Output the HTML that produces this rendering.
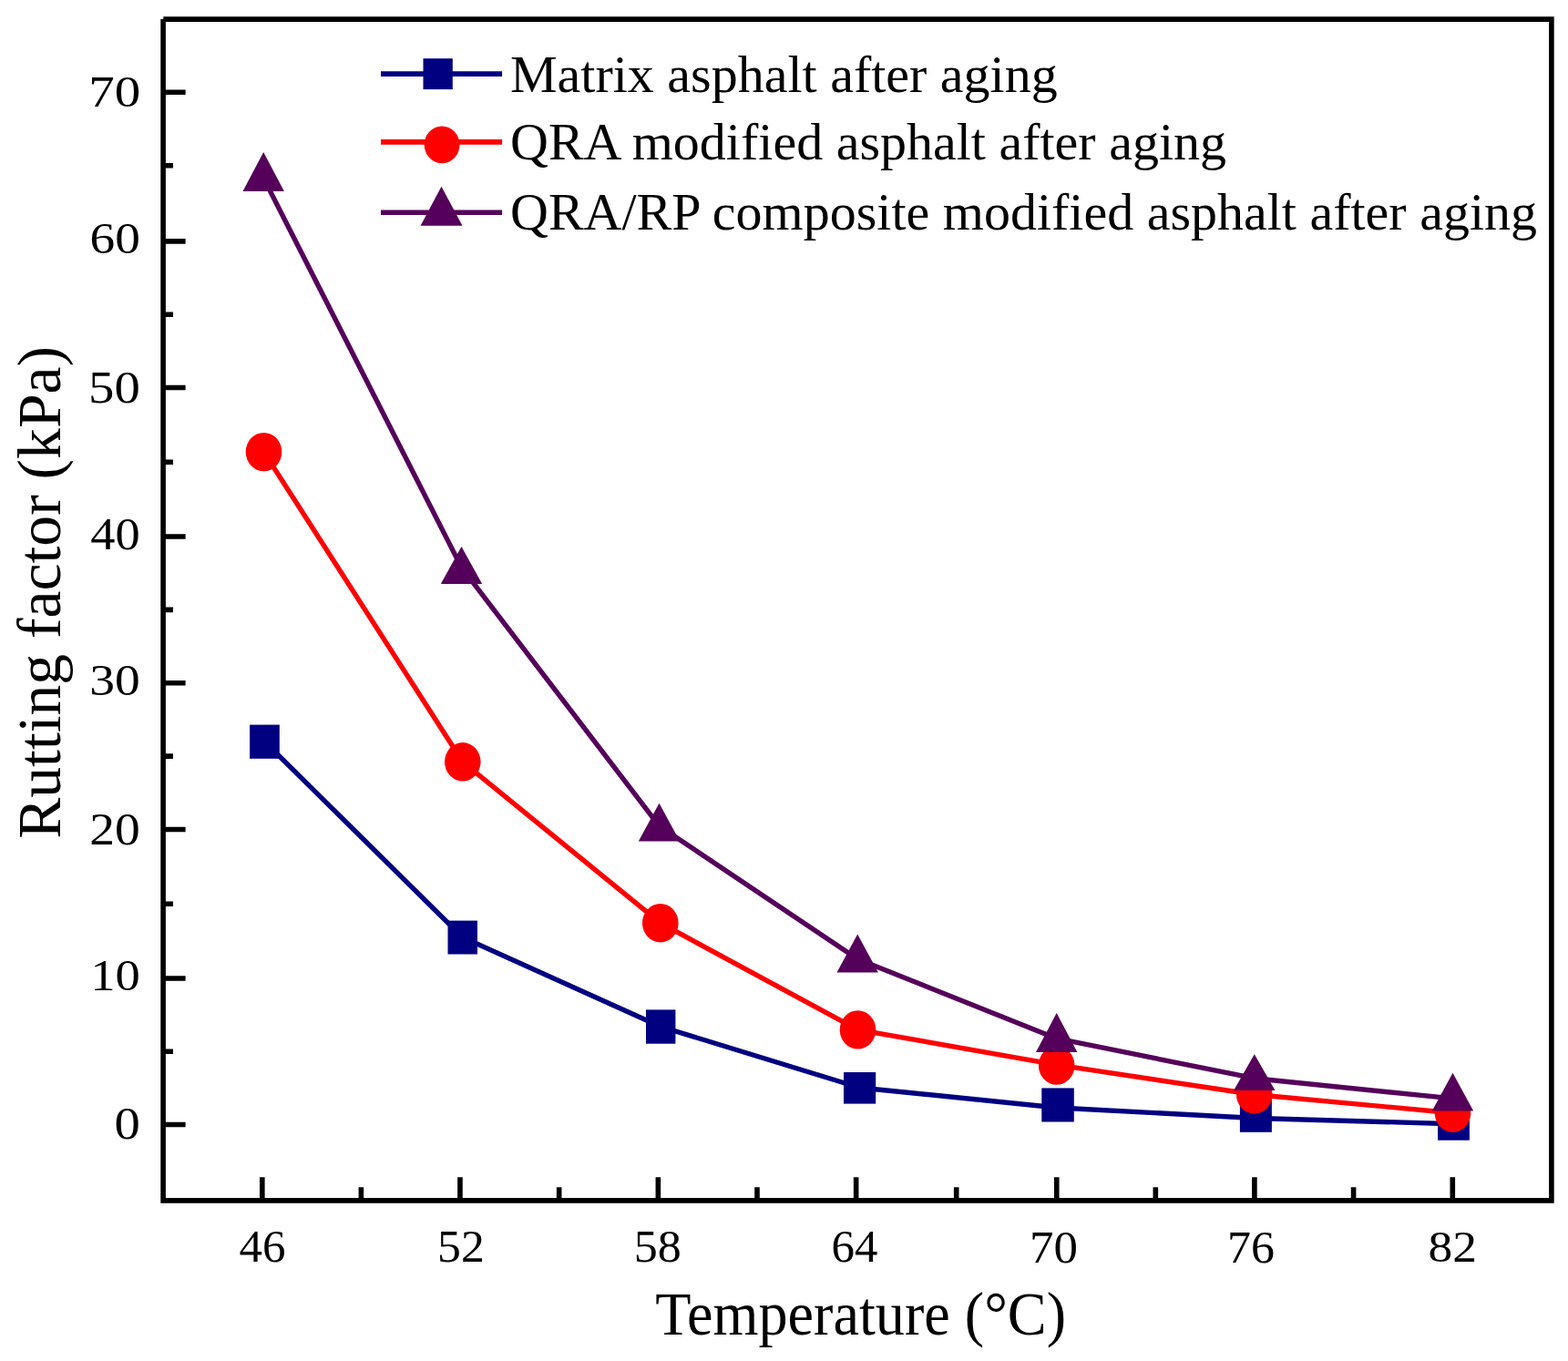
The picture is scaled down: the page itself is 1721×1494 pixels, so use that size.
<!DOCTYPE html><html><head><meta charset="utf-8"><title>Rutting factor vs Temperature</title>
<style>html,body{margin:0;padding:0;background:#fff;}svg{display:block;}text{font-family:"Liberation Serif","Times New Roman",serif;fill:#000;}</style></head><body>
<svg width="1721" height="1494" viewBox="0 0 1721 1494">
<rect x="0" y="0" width="1721" height="1494" fill="#fff"/>
<path d="M179.3 18.2H1705.7V1320.7H176.3V21.1H179.3Z M181.9 23.9V1314.9H1700.1V23.9Z" fill="#000" fill-rule="evenodd"/>
<path d="M181 1234.50H203.6 M181 1074.00H203.6 M181 910.50H203.6 M181 749.80H203.6 M181 589.05H203.6 M181 425.50H203.6 M181 264.86H203.6 M181 101.25H203.6 M181 1154.25H190 M181 992.25H190 M181 830.15H190 M181 669.42H190 M181 507.27H190 M181 345.18H190 M181 181.80H190 M287.80 1316V1292.2 M504.96 1316V1292.2 M722.36 1316V1292.2 M939.65 1316V1292.2 M1159.76 1316V1292.2 M1376.90 1316V1292.2 M1594.30 1316V1292.2 M396.38 1316V1303.3 M613.66 1316V1303.3 M831.00 1316V1303.3 M1049.70 1316V1303.3 M1268.33 1316V1303.3 M1485.60 1316V1303.3" stroke="#000" stroke-width="5.6" fill="none"/>
<text transform="translate(97.21 117.45) scale(1.0957 0.9500)" font-size="52">70</text>
<text transform="translate(98.57 278.05) scale(1.0646 0.9472)" font-size="52">60</text>
<text transform="translate(97.03 441.93) scale(1.0915 0.9667)" font-size="52">50</text>
<text transform="translate(99.25 602.54) scale(1.0469 0.9583)" font-size="52">40</text>
<text transform="translate(98.16 762.76) scale(1.0687 0.9389)" font-size="52">30</text>
<text transform="translate(98.16 926.74) scale(1.0687 0.9611)" font-size="52">20</text>
<text transform="translate(99.30 1086.96) scale(1.0500 0.9417)" font-size="52">10</text>
<text transform="translate(125.62 1250.44) scale(1.0909 0.9583)" font-size="52">0</text>
<text transform="translate(262.52 1385.34) scale(0.9800 0.9583)" font-size="52">46</text>
<text transform="translate(480.11 1385.34) scale(0.9957 0.9583)" font-size="52">52</text>
<text transform="translate(695.79 1385.34) scale(1.0021 0.9583)" font-size="52">58</text>
<text transform="translate(912.54 1385.34) scale(0.9776 0.9583)" font-size="52">64</text>
<text transform="translate(1130.04 1385.73) scale(1.0191 0.9667)" font-size="52">70</text>
<text transform="translate(1347.11 1385.73) scale(0.9979 0.9667)" font-size="52">76</text>
<text transform="translate(1567.44 1385.36) scale(1.0298 0.9417)" font-size="52">82</text>
<text transform="translate(719.30 1465.18) scale(1.0034 1.0517)" font-size="64">Temperature (°C)</text>
<text transform="translate(65.58 920.82) scale(1.0016 1.0096) rotate(-90)" font-size="67">Rutting factor (kPa)</text>
<path d="M290.5 814.2 L507.8 1029.0 L725.2 1127.0 L943.6 1194.0 L1161.0 1216.0 L1378.4 1227.5 L1595.5 1233.7" stroke="#000080" stroke-width="5.4" fill="none" stroke-linejoin="round"/>
<rect x="274.1" y="795.6" width="32.7" height="37.2" fill="#000080"/>
<rect x="491.5" y="1010.6" width="32.5" height="36.9" fill="#000080"/>
<rect x="709" y="1108.4" width="32.4" height="37.3" fill="#000080"/>
<rect x="926" y="1177" width="35.2" height="34.6" fill="#000080"/>
<rect x="1143.3" y="1194.4" width="35.5" height="37.1" fill="#000080"/>
<rect x="1360.9" y="1206.8" width="35.0" height="36.0" fill="#000080"/>
<rect x="1578.1" y="1215.7" width="34.8" height="36.0" fill="#000080"/>
<path d="M289.5 496.1 L507.8 836.3 L724.8 1013.2 L941.5 1130.4 L1159.7 1168.8 L1376.8 1201.5 L1594.5 1221.7" stroke="#ff0000" stroke-width="5.4" fill="none" stroke-linejoin="round"/>
<ellipse cx="289.5" cy="496.1" rx="19.8" ry="21.2" fill="#ff0000"/>
<ellipse cx="507.8" cy="836.3" rx="19.8" ry="21.2" fill="#ff0000"/>
<ellipse cx="724.8" cy="1013.2" rx="19.8" ry="21.2" fill="#ff0000"/>
<ellipse cx="941.5" cy="1130.4" rx="19.8" ry="21.2" fill="#ff0000"/>
<ellipse cx="1159.7" cy="1169.6" rx="19.8" ry="21.2" fill="#ff0000"/>
<ellipse cx="1376.8" cy="1201.5" rx="19.8" ry="21.2" fill="#ff0000"/>
<ellipse cx="1594.5" cy="1221.7" rx="19.8" ry="21.2" fill="#ff0000"/>
<path d="M289.2 195.4 L506.5 622.9 L723.5 906.7 L941.2 1052.7 L1159.7 1139.9 L1376.8 1183.7 L1594.5 1205.9" stroke="#55005a" stroke-width="5.4" fill="none" stroke-linejoin="round"/>
<path d="M289.2 167.1L311.9 209.9L266.5 209.9Z" fill="#55005a"/>
<path d="M506.5 600L529.2 641L483.8 641Z" fill="#55005a"/>
<path d="M723.5 881.7L746.2 923.4L700.8 923.4Z" fill="#55005a"/>
<path d="M941.2 1025.5L963.9 1067.4L918.5 1067.4Z" fill="#55005a"/>
<path d="M1159.7 1112L1182.4 1155L1137.0 1155Z" fill="#55005a"/>
<path d="M1376.8 1157.3L1399.5 1197L1354.1 1197Z" fill="#55005a"/>
<path d="M1594.5 1177.7L1617.2 1219.6L1571.8 1219.6Z" fill="#55005a"/>
<path d="M418 81.1H551.1" stroke="#000080" stroke-width="5.6"/>
<rect x="464.5" y="64.2" width="32.3" height="33.9" fill="#000080"/>
<text x="560" y="100.7" font-size="58">Matrix asphalt after aging</text>
<path d="M418 155.9H551.1" stroke="#ff0000" stroke-width="5.6"/>
<ellipse cx="485.1" cy="158.9" rx="19.4" ry="20.4" fill="#ff0000"/>
<text x="560" y="175.2" font-size="58">QRA modified asphalt after aging</text>
<path d="M418 233.2H551.1" stroke="#55005a" stroke-width="5.6"/>
<path d="M484.5 204.8L507.5 247.8L461.6 247.8Z" fill="#55005a"/>
<text x="560" y="252.4" font-size="58">QRA/RP composite modified asphalt after aging</text>
</svg></body></html>
